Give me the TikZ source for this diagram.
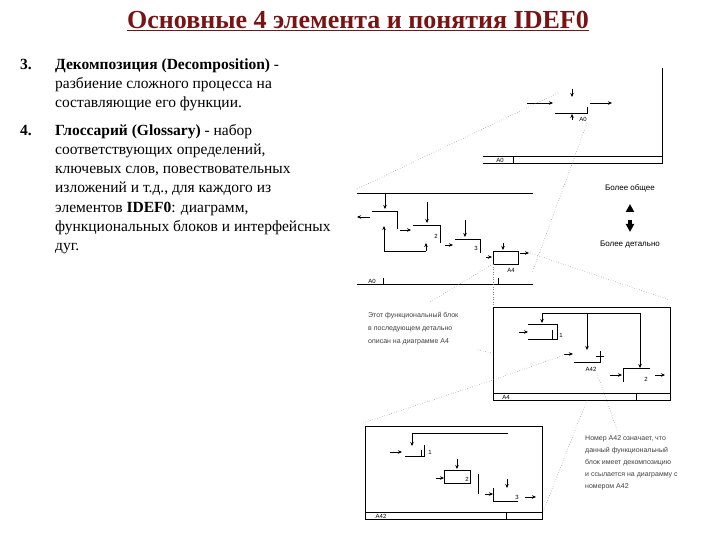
\documentclass[tikz,border=0pt]{standalone}
\usepackage{fontspec}
\setmainfont{Liberation Serif}
\newfontfamily\smallsans{Liberation Sans}
\usetikzlibrary{arrows.meta}
\begin{document}
\begin{tikzpicture}[x=1pt,y=-1pt,
  ln/.style={line width=0.6pt},
  ar/.style={line width=0.6pt,-{Stealth[length=4pt,width=3.5pt]}},
  dt/.style={line width=0.5pt,dotted,gray},
  body/.style={anchor=base west,font=\fontsize{15.5}{18}\selectfont,inner sep=0pt},
  captxt/.style={anchor=base west,font=\smallsans\fontsize{7}{8}\selectfont,inner sep=0pt,text=black!75},
  lbl/.style={font=\smallsans\fontsize{6}{7}\selectfont,inner sep=0pt}]
\useasboundingbox (0,0) rectangle (720,540);
\definecolor{titlec}{RGB}{120,20,20}
\node (title) at (358,21) {\fontsize{26}{30}\selectfont\bfseries\color{titlec}\underline{Основные 4 элемента и понятия IDEF0}};
% item 3
\node[body] (n3) at (20,70) {\bfseries 3.};
\node[body] (t3a) at (55,70) {\bfseries Декомпозиция (Decomposition) \mdseries -};
\node[body] (t3b) at (55,89) {разбиение сложного процесса на};
\node[body] (t3c) at (55,108) {составляющие его функции.};
% item 4
\node[body] (n4) at (20,136) {\bfseries 4.};
\node[body] (t4a) at (55,136) {\bfseries Глоссарий (Glossary) \mdseries - набор};
\node[body] (t4b) at (55,155) {соответствующих определений,};
\node[body] (t4c) at (55,174) {ключевых слов, повествовательных};
\node[body] (t4d) at (55,193) {изложений и т.д., для каждого из};
\node[body] (t4e) at (55,212) {элементов \bfseries IDEF0\mdseries: диаграмм,};
\node[body] (t4f) at (55,231) {функциональных блоков и интерфейсных};
\node[body] (t4g) at (55,250) {дуг.};
% ---------- top diagram (A0)
\draw[ln] (662,68) -- (662,163) -- (483,163);
\draw[ln] (483,156) -- (662,156);
\draw[ln] (513,156) -- (513,163);
\node[lbl] (la0) at (500,160) {A0};
\draw[ln] (555,113) -- (587,113) -- (587,107);
\draw[ar] (527,103) -- (553,103);
\draw[ar] (590,103) -- (612,103);
\draw[ar] (572,89) -- (572,97);
\draw[ar] (572,120) -- (572,114);
\node[lbl] (la0b) at (583,119) {A0};
% ---------- middle diagram
\draw[ln] (357,193) -- (533,193);
\draw[ln] (357,284) -- (533,284);
\draw[ln] (383,278) -- (383,284);
\draw[ln] (498,278) -- (498,284);
\node[lbl] (la1) at (372,281) {A0};
\draw[ln] (372,211) -- (397,211) -- (397,229);
\draw[ln] (413,225) -- (440,225) -- (440,243);
\draw[ln] (455,239) -- (480,239) -- (480,253);
\draw[ln] (493,251) rectangle (518,264);
\node[lbl] (la4) at (511,270) {A4};
\node[lbl] (l2) at (436,236) {2};
\node[lbl] (l3) at (476,248) {3};
\draw[ar] (385,193) -- (385,209);
\draw[ar] (427,202) -- (427,223);
\draw[ar] (465,220) -- (465,237);
\draw[ar] (503,243) -- (503,250);
\draw[ar] (370,217) -- (357,217);
\draw[ar] (384,251) -- (384,226);
\draw[ln] (384,251) -- (426,251);
\draw[ar] (426,251) -- (426,243);
\draw[ar] (400,230) -- (411,230);
\draw[ar] (445,245) -- (453,245);
\draw[ar] (486,257) -- (492,257);
\draw[ar] (520,253) -- (529,253);
% labels more/less general
\node[lbl,font=\smallsans\fontsize{8}{9}\selectfont] (gen) at (630,188) {Более общее};
\draw[line width=4pt,-{Triangle[length=8pt,width=8pt]}] (630,210) -- (630,204);
\draw[line width=4pt,-{Triangle[length=8pt,width=8pt]}] (630,220) -- (630,232);
\node[lbl,font=\smallsans\fontsize{8}{9}\selectfont] (det) at (630,245) {Более детально};
% dotted links
\draw[dt] (357,189) -- (560,92);
\draw[dt] (587,123) -- (532,273);
\draw[dt] (493,264) -- (430,302);
\draw[dt] (493,264) -- (493,307);
\draw[dt] (530,253) -- (670,300);
% ---------- A4 diagram
\draw[ln] (493,307) rectangle (670,400);
\draw[ln] (493,393) -- (670,393);
\draw[ln] (636,393) -- (636,400);
\node[lbl] (la4b) at (506,397) {A4};
\draw[ln] (528,324) -- (557,324) -- (557,339) -- (528,339);
\draw[ln] (552,330) -- (552,339);
\node[lbl] (l1b) at (561,335) {1};
\draw[ar] (519,332) -- (528,332);
\draw[ln] (542,313) -- (640,313) -- (640,360);
\draw[ar] (640,340) -- (640,368);
\draw[ar] (542,313) -- (542,323);
\draw[ar] (587,313) -- (587,350);
\draw[ln] (574,362) -- (600,362) -- (600,351);
\draw[ln] (596,356) -- (604,356);
\node[lbl] (la42) at (591,369) {A42};
\draw[ln] (623,382) -- (623,368) -- (650,368);
\node[lbl] (l2b) at (646,379) {2};
\draw[ar] (610,375) -- (622,375);
\draw[ar] (655,375) -- (665,375);
\draw[ar] (564,354) -- (573,354);
% captions
\node[captxt] (c1a) at (368,317) {Этот функциональный блок};
\node[captxt] (c1b) at (368,330) {в последующем детально};
\node[captxt] (c1c) at (368,343) {описан на диаграмме A4};
\draw[dt] (478,350) -- (492,353);
\draw[dt] (363,423) -- (493,380) -- (570,353);
\draw[dt] (597,373) -- (617,430);
\draw[dt] (587,400) -- (543,512);
\node[captxt] (c2a) at (585,440) {Номер A42 означает, что};
\node[captxt] (c2b) at (585,452) {данный функциональный};
\node[captxt] (c2c) at (585,464) {блок имеет декомпозицию};
\node[captxt] (c2d) at (585,476) {и ссылается на диаграмму с};
\node[captxt] (c2e) at (585,488) {номером A42};
% ---------- A42 diagram
\draw[ln] (365,426) rectangle (542,519);
\draw[ln] (365,512) -- (542,512);
\draw[ln] (506,512) -- (506,519);
\node[lbl] (la42b) at (381,516) {A42};
\draw[ln] (412,433) -- (508,433);
\draw[ar] (412,433) -- (412,446);
\draw[ln] (405,456) -- (424,456) -- (424,445);
\draw[ln] (421,450) -- (421,456);
\node[lbl] (l1c) at (430,452) {1};
\draw[ar] (390,452) -- (402,452);
\draw[ln] (444,470) rectangle (470,483);
\node[lbl] (l2c) at (467,479) {2};
\draw[ar] (457,459) -- (457,469);
\draw[ar] (436,478) -- (444,478);
\draw[ln] (478,474) -- (478,494);
\draw[ln] (493,488) -- (493,501) -- (518,501);
\node[lbl] (l3c) at (517,497) {3};
\draw[ar] (507,479) -- (507,488);
\draw[ar] (485,494) -- (493,494);
\draw[ar] (525,497) -- (536,497);
\end{tikzpicture}
\end{document}
